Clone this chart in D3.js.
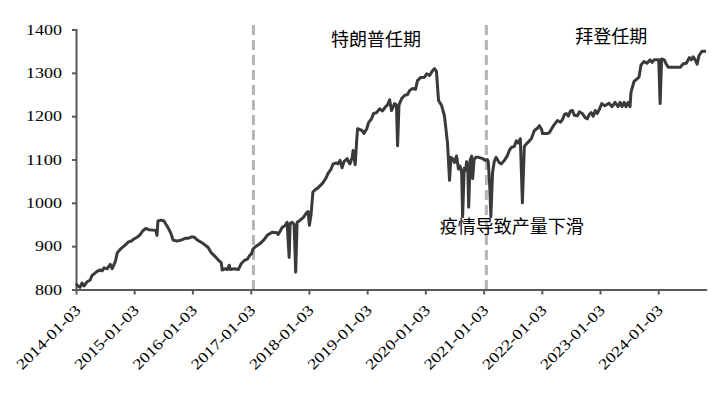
<!DOCTYPE html>
<html>
<head>
<meta charset="utf-8">
<script src="https://cdn.jsdelivr.net/npm/d3@7"></script>
<style>
  body { margin: 0; background: #fff; }
  svg { display: block; }
  .num { font-family: "Liberation Serif", "Times New Roman", serif; font-size: 15px; }
  .note { font-family: "Noto Sans CJK SC", sans-serif; font-size: 18px; }
</style>
</head>
<body>
<svg width="716" height="393"></svg>
<script>
// weekly production index
var dates = [
  "2014-01-03","2014-01-16","2014-01-28","2014-02-10","2014-02-22","2014-03-14","2014-04-02","2014-04-13","2014-05-02","2014-05-15",
  "2014-06-03","2014-06-16","2014-06-28","2014-07-18","2014-08-06","2014-08-18","2014-09-07","2014-09-19","2014-10-08","2014-10-21",
  "2014-11-09","2014-11-28","2014-12-17","2014-12-30","2015-01-18","2015-02-06","2015-02-25","2015-03-17","2015-04-04","2015-04-30",
  "2015-05-19","2015-05-26","2015-06-01","2015-06-20","2015-07-09","2015-07-22","2015-08-03","2015-08-22","2015-09-04","2015-09-29",
  "2015-10-24","2015-11-18","2015-12-07","2015-12-26","2016-01-14","2016-02-08","2016-03-11","2016-04-11","2016-04-30","2016-05-25",
  "2016-06-19","2016-07-02","2016-07-08","2016-07-27","2016-08-09","2016-08-21","2016-08-28","2016-09-22","2016-10-17","2016-11-05",
  "2016-11-24","2016-12-13","2016-12-26","2017-01-07","2017-01-18","2017-02-06","2017-03-03","2017-03-28","2017-04-16","2017-05-17",
  "2017-06-18","2017-06-24","2017-07-07","2017-07-19","2017-08-07","2017-08-19","2017-09-01","2017-09-07","2017-09-20","2017-10-02",
  "2017-10-12","2017-10-21","2017-11-09","2017-11-28","2017-12-21","2017-12-29","2018-01-06","2018-01-17","2018-01-28","2018-02-11",
  "2018-03-02","2018-03-21","2018-04-02","2018-04-21","2018-05-03","2018-05-22","2018-06-04","2018-06-23","2018-07-05","2018-07-17",
  "2018-07-30","2018-08-11","2018-08-31","2018-09-12","2018-09-18","2018-10-01","2018-10-07","2018-10-20","2018-10-29","2018-11-04",
  "2018-12-02","2018-12-14","2019-01-01","2019-01-12","2019-01-31","2019-02-12","2019-03-03","2019-03-22","2019-04-10","2019-04-29",
  "2019-05-11","2019-05-24","2019-06-05","2019-06-24","2019-07-06","2019-07-13","2019-07-22","2019-08-07","2019-08-26","2019-09-14",
  "2019-09-26","2019-10-15","2019-11-03","2019-11-15","2019-12-04","2019-12-29","2020-01-11","2020-01-30","2020-02-17","2020-03-01",
  "2020-03-13","2020-03-26","2020-04-14","2020-05-02","2020-05-21","2020-06-03","2020-06-12","2020-06-22","2020-07-04","2020-07-17",
  "2020-07-29","2020-08-08","2020-08-18","2020-08-24","2020-09-03","2020-09-12","2020-09-18","2020-09-25","2020-10-01","2020-10-10",
  "2020-10-20","2020-10-26","2020-11-04","2020-11-14","2020-12-03","2020-12-28","2021-01-14","2021-01-26","2021-02-01","2021-02-10",
  "2021-02-17","2021-02-28","2021-03-10","2021-03-22","2021-04-12","2021-04-24","2021-05-13","2021-06-01","2021-06-13","2021-06-26",
  "2021-07-14","2021-07-27","2021-08-08","2021-08-21","2021-09-03","2021-09-15","2021-09-28","2021-10-17","2021-10-29","2021-11-17",
  "2021-12-06","2021-12-19","2022-01-01","2022-01-07","2022-01-26","2022-02-07","2022-02-19","2022-03-10","2022-03-29","2022-04-11",
  "2022-04-30","2022-05-12","2022-05-25","2022-06-06","2022-06-18","2022-07-01","2022-07-14","2022-07-26","2022-08-14","2022-08-26",
  "2022-09-14","2022-10-03","2022-10-15","2022-10-28","2022-11-09","2022-11-21","2022-12-04","2022-12-16","2022-12-29","2023-01-14",
  "2023-02-02","2023-02-28","2023-03-19","2023-04-07","2023-04-26","2023-05-09","2023-05-21","2023-06-03","2023-06-15","2023-06-28",
  "2023-07-10","2023-07-16","2023-08-04","2023-08-23","2023-09-04","2023-09-17","2023-10-06","2023-10-25","2023-11-13","2023-11-25",
  "2023-12-08","2024-01-06","2024-01-15","2024-01-24","2024-02-10","2024-02-22","2024-03-06","2024-03-31","2024-04-25","2024-05-20",
  "2024-06-08","2024-06-27","2024-07-16","2024-07-28","2024-08-09","2024-08-22","2024-09-03","2024-09-15","2024-10-04","2024-10-29"
]
var values = [
  813,808,805,815,808,818,822,832,838,842,
  845,843,850,848,858,848,865,885,893,897,
  903,910,912,916,920,925,935,941,938,937,
  936,925,958,960,958,950,943,929,914,912,
  914,918,918,921,921,913,906,897,885,876,
  866,862,845,848,846,856,846,848,846,860,
  867,870,878,882,894,900,906,915,925,932,
  931,927,935,943,948,955,874,952,955,950,
  840,955,960,966,978,980,948,975,1025,1030,
  1035,1042,1047,1058,1068,1078,1090,1092,1090,1098,
  1081,1095,1102,1092,1090,1105,1121,1088,1140,1171,
  1167,1160,1171,1185,1194,1206,1208,1217,1212,1222,
  1226,1238,1213,1229,1226,1132,1226,1240,1248,1250,
  1259,1264,1262,1282,1289,1290,1298,1294,1305,1310,
  1303,1236,1225,1201,1139,1052,1105,1102,1093,1108,
  1078,1085,1070,968,1080,1075,1095,1085,990,1098,
  1108,1056,1100,1105,1105,1102,1098,1100,1095,1040,
  968,1070,1095,1105,1092,1090,1098,1109,1121,1128,
  1130,1143,1138,1148,1000,1130,1136,1143,1148,1167,
  1172,1178,1170,1160,1160,1160,1162,1174,1184,1190,
  1186,1192,1204,1206,1200,1212,1213,1202,1201,1210,
  1206,1196,1194,1204,1208,1200,1213,1206,1215,1229,
  1224,1230,1222,1232,1222,1232,1222,1232,1222,1232,
  1222,1255,1280,1286,1290,1318,1326,1322,1330,1324,
  1330,1330,1229,1332,1330,1320,1313,1313,1313,1313,
  1321,1322,1335,1330,1337,1330,1320,1340,1350,1350
]
var tickDates = ["2014-01-03","2015-01-03","2016-01-03","2017-01-03","2018-01-03","2019-01-03",
  "2020-01-03","2021-01-03","2022-01-03","2023-01-03","2024-01-03"]
var yTicks = [800, 900, 1000, 1100, 1200, 1300, 1400]
var termStarts = ["2017-01-20", "2021-01-20"]
var notes = [
  {date: "2019-02-28", value: 1381, text: "特朗普任期"},
  {date: "2023-03-15", value: 1387, text: "拜登任期"},
  {date: "2021-06-28", value: 950, text: "疫情导致产量下滑"}
]

var parse = d3.timeParse("%Y-%m-%d")
var series = dates.map(function(d, i){ return {date: parse(d), value: values[i]} })

var svg = d3.select("svg")
var x = d3.scaleTime()
  .domain([parse("2014-01-03"), parse("2024-11-02")])
  .range([76, 706.7])
var y = d3.scaleLinear()
  .domain([800, 1400])
  .range([289.5, 29.5])

var axisColor = "#595959"

// president term separators
svg.selectAll(".term")
  .data(termStarts)
  .join("line")
  .attr("class", "term")
  .attr("x1", function(d){ return x(parse(d)) })
  .attr("x2", function(d){ return x(parse(d)) })
  .attr("y1", 25)
  .attr("y2", 289)
  .attr("stroke", "#b4b4b4")
  .attr("stroke-width", 3)
  .attr("stroke-dasharray", "10,5");

// y axis
var yAxis = svg.append("g")
  .attr("transform", "translate(76,0)")
  .call(d3.axisLeft(y).tickValues(yTicks).tickSize(4).tickPadding(10).tickFormat(d3.format("d")));
yAxis.attr("font-family", null).attr("font-size", null);
yAxis.select(".domain").attr("stroke", axisColor).attr("stroke-width", 2);
yAxis.selectAll(".tick line").attr("stroke", axisColor).attr("stroke-width", 2);
yAxis.selectAll("text")
  .attr("class", "num")
  .attr("fill", "#000")
  .attr("textLength", function(d){ return String(d).length * 9 })
  .attr("lengthAdjust", "spacingAndGlyphs");

// x axis
var xAxis = svg.append("g")
  .attr("transform", "translate(0,289.5)")
  .call(d3.axisBottom(x).tickValues(tickDates.map(parse)).tickSize(5).tickSizeOuter(0).tickFormat(d3.timeFormat("%Y-%m-%d")));
xAxis.attr("font-family", null).attr("font-size", null);
xAxis.select(".domain").attr("stroke", axisColor).attr("stroke-width", 2);
xAxis.selectAll(".tick line").attr("stroke", axisColor).attr("stroke-width", 2);
xAxis.selectAll("text")
  .attr("class", "num")
  .attr("fill", "#000")
  .attr("text-anchor", "end")
  .attr("dy", "0.35em")
  .attr("textLength", 84)
  .attr("lengthAdjust", "spacingAndGlyphs")
  .attr("transform", "translate(1.5,18) rotate(-45)")
  .attr("x", 0)
  .attr("y", 0);

// the series
var line = d3.line()
  .x(function(d){ return x(d.date) })
  .y(function(d){ return y(d.value) });

svg.append("path")
  .datum(series)
  .attr("fill", "none")
  .attr("stroke", "#3a3a3a")
  .attr("stroke-width", 3)
  .attr("stroke-linejoin", "round")
  .attr("d", line);

// annotations
svg.selectAll(".note")
  .data(notes)
  .join("text")
  .attr("class", "note")
  .attr("x", function(d){ return x(parse(d.date)) })
  .attr("y", function(d){ return y(d.value) })
  .attr("text-anchor", "middle")
  .attr("dominant-baseline", "central")
  .attr("fill", "#000")
  .text(function(d){ return d.text });
</script>
</body>
</html>
